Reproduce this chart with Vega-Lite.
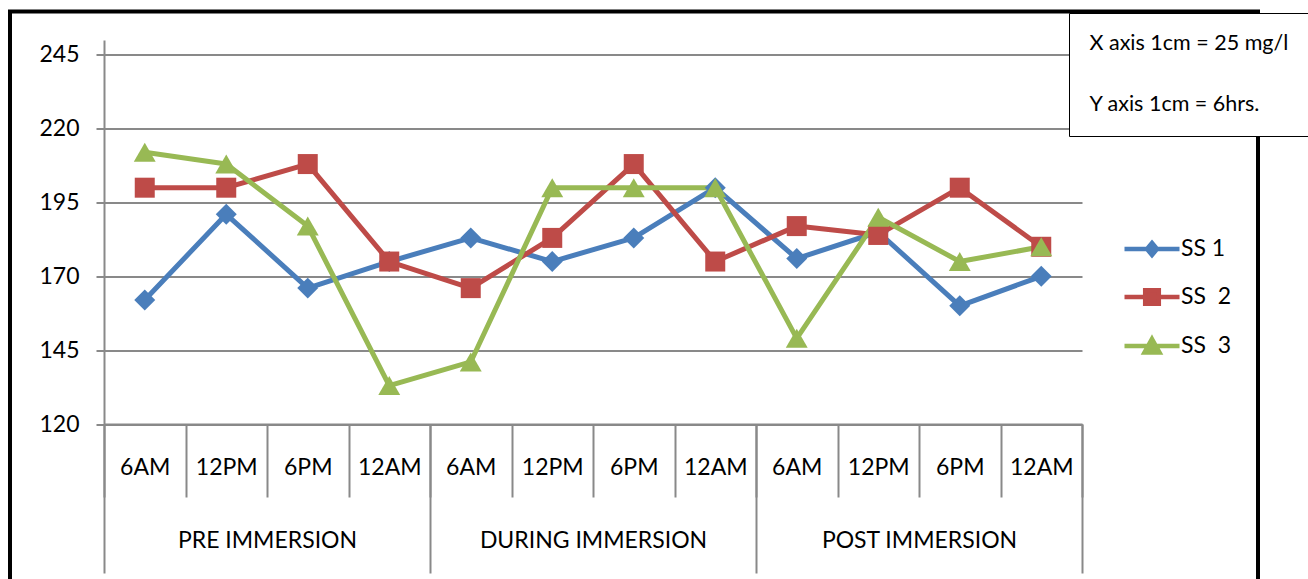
{
  "$schema": "https://vega.github.io/schema/vega-lite/v6.json",
  "autosize": {"type": "none"},
  "padding": {"left": 10, "top": 11.5, "right": 50, "bottom": 0},
  "width": 1248,
  "height": 580,
  "background": "white",
  "config": {
    "view": {"stroke": "black", "strokeWidth": 4},
    "font": "Lato",
    "axis": {"labelFont": "Lato", "labelColor": "black", "labelFontSize": 23, "title": null, "labelLimit": 400},
    "legend": {"labelFont": "Lato", "labelColor": "black", "labelLimit": 500}
  },
  "datasets": {
    "values": [
      {"series": "SS 1", "session": "PRE IMMERSION", "slot": "PRE IMMERSION 6AM", "value": 162},
      {"series": "SS 1", "session": "PRE IMMERSION", "slot": "PRE IMMERSION 12PM", "value": 191},
      {"series": "SS 1", "session": "PRE IMMERSION", "slot": "PRE IMMERSION 6PM", "value": 166},
      {"series": "SS 1", "session": "PRE IMMERSION", "slot": "PRE IMMERSION 12AM", "value": 175},
      {"series": "SS 1", "session": "DURING IMMERSION", "slot": "DURING IMMERSION 6AM", "value": 183},
      {"series": "SS 1", "session": "DURING IMMERSION", "slot": "DURING IMMERSION 12PM", "value": 175},
      {"series": "SS 1", "session": "DURING IMMERSION", "slot": "DURING IMMERSION 6PM", "value": 183},
      {"series": "SS 1", "session": "DURING IMMERSION", "slot": "DURING IMMERSION 12AM", "value": 200},
      {"series": "SS 1", "session": "POST IMMERSION", "slot": "POST IMMERSION 6AM", "value": 176},
      {"series": "SS 1", "session": "POST IMMERSION", "slot": "POST IMMERSION 12PM", "value": 185},
      {"series": "SS 1", "session": "POST IMMERSION", "slot": "POST IMMERSION 6PM", "value": 160},
      {"series": "SS 1", "session": "POST IMMERSION", "slot": "POST IMMERSION 12AM", "value": 170},
      {"series": "SS  2", "session": "PRE IMMERSION", "slot": "PRE IMMERSION 6AM", "value": 200},
      {"series": "SS  2", "session": "PRE IMMERSION", "slot": "PRE IMMERSION 12PM", "value": 200},
      {"series": "SS  2", "session": "PRE IMMERSION", "slot": "PRE IMMERSION 6PM", "value": 208},
      {"series": "SS  2", "session": "PRE IMMERSION", "slot": "PRE IMMERSION 12AM", "value": 175},
      {"series": "SS  2", "session": "DURING IMMERSION", "slot": "DURING IMMERSION 6AM", "value": 166},
      {"series": "SS  2", "session": "DURING IMMERSION", "slot": "DURING IMMERSION 12PM", "value": 183},
      {"series": "SS  2", "session": "DURING IMMERSION", "slot": "DURING IMMERSION 6PM", "value": 208},
      {"series": "SS  2", "session": "DURING IMMERSION", "slot": "DURING IMMERSION 12AM", "value": 175},
      {"series": "SS  2", "session": "POST IMMERSION", "slot": "POST IMMERSION 6AM", "value": 187},
      {"series": "SS  2", "session": "POST IMMERSION", "slot": "POST IMMERSION 12PM", "value": 184},
      {"series": "SS  2", "session": "POST IMMERSION", "slot": "POST IMMERSION 6PM", "value": 200},
      {"series": "SS  2", "session": "POST IMMERSION", "slot": "POST IMMERSION 12AM", "value": 180},
      {"series": "SS  3", "session": "PRE IMMERSION", "slot": "PRE IMMERSION 6AM", "value": 212},
      {"series": "SS  3", "session": "PRE IMMERSION", "slot": "PRE IMMERSION 12PM", "value": 208},
      {"series": "SS  3", "session": "PRE IMMERSION", "slot": "PRE IMMERSION 6PM", "value": 187},
      {"series": "SS  3", "session": "PRE IMMERSION", "slot": "PRE IMMERSION 12AM", "value": 133},
      {"series": "SS  3", "session": "DURING IMMERSION", "slot": "DURING IMMERSION 6AM", "value": 141},
      {"series": "SS  3", "session": "DURING IMMERSION", "slot": "DURING IMMERSION 12PM", "value": 200},
      {"series": "SS  3", "session": "DURING IMMERSION", "slot": "DURING IMMERSION 6PM", "value": 200},
      {"series": "SS  3", "session": "DURING IMMERSION", "slot": "DURING IMMERSION 12AM", "value": 200},
      {"series": "SS  3", "session": "POST IMMERSION", "slot": "POST IMMERSION 6AM", "value": 149},
      {"series": "SS  3", "session": "POST IMMERSION", "slot": "POST IMMERSION 12PM", "value": 190},
      {"series": "SS  3", "session": "POST IMMERSION", "slot": "POST IMMERSION 6PM", "value": 175},
      {"series": "SS  3", "session": "POST IMMERSION", "slot": "POST IMMERSION 12AM", "value": 180}
    ],
    "notes": [
      {"note": "X axis 1cm = 25 mg/l"},
      {"note": "Y axis 1cm = 6hrs."}
    ]
  },
  "resolve": {"scale": {"x": "independent"}, "axis": {"x": "independent"}},
  "layer": [
    {
      "data": {"name": "values"},
      "encoding": {
        "x": {
          "field": "slot", "type": "nominal", "sort": null,
          "scale": {
            "type": "band",
            "domain": ["PRE IMMERSION 6AM", "PRE IMMERSION 12PM", "PRE IMMERSION 6PM", "PRE IMMERSION 12AM", "DURING IMMERSION 6AM", "DURING IMMERSION 12PM", "DURING IMMERSION 6PM", "DURING IMMERSION 12AM", "POST IMMERSION 6AM", "POST IMMERSION 12PM", "POST IMMERSION 6PM", "POST IMMERSION 12AM"],
            "range": [94, 1072], "paddingInner": 0, "paddingOuter": 0
          },
          "axis": {
            "orient": "bottom", "offset": -167.5, "tickBand": "extent", "tickSize": 73,
            "tickColor": "#898989", "tickWidth": 2, "domainColor": "#898989", "domainWidth": 2,
            "labelAngle": 0, "labelBaseline": "middle", "labelPadding": -30,
            "labelExpr": "split(datum.label, ' ')[2]", "grid": false
          }
        },
        "y": {
          "field": "value", "type": "quantitative",
          "scale": {"domain": [120, 250], "range": [412.5, 28.5], "nice": false, "zero": false},
          "axis": {
            "orient": "left", "offset": -94, "values": [120, 145, 170, 195, 220, 245],
            "grid": true, "gridColor": "#898989", "gridWidth": 2,
            "domainColor": "#898989", "domainWidth": 2, "tickColor": "#898989", "tickWidth": 2,
            "tickSize": 8, "labelPadding": 17
          }
        },
        "color": {
          "field": "series", "type": "nominal",
          "scale": {"domain": ["SS 1", "SS  2", "SS  3"], "range": ["#4A7EBB", "#BE4B48", "#98B954"]},
          "legend": {
            "orient": "none", "legendX": 1129.5, "legendY": 225, "title": null, "padding": 0,
            "labelFontSize": 23, "labelOffset": 16.5, "rowPadding": 16, "symbolSize": 400, "symbolStrokeWidth": 4.5,
            "labelExpr": "replace(datum.label, '  ', ' \u00a0')",
            "encode": {"symbols": {"update": {
              "shape": {"signal": "datum.value === 'SS 1' ? 'M-2.75,0H2.75M0,-0.6L0.5,0L0,0.6L-0.5,0Z' : datum.value === 'SS  2' ? 'M-2.75,0H2.75M-0.68,-0.68H0.68V0.68H-0.68Z' : 'M-2.75,0H2.75M0,-0.7L0.75,0.65H-0.75Z'"},
              "stroke": {"signal": "scale('color', datum.value)"},
              "fill": {"signal": "scale('color', datum.value)"},
              "strokeWidth": {"value": 4.5},
              "opacity": {"value": 1}
            }}}
          }
        }
      },
      "layer": [
        {"mark": {"type": "line", "strokeWidth": 5, "strokeJoin": "round"}},
        {
          "transform": [{"filter": "datum.series === 'SS 1'"}],
          "mark": {"type": "point", "shape": "diamond", "filled": true, "opacity": 1, "size": 440}
        },
        {
          "transform": [{"filter": "datum.series === 'SS  2'"}],
          "mark": {"type": "point", "shape": "square", "filled": true, "opacity": 1, "size": 400}
        },
        {
          "transform": [{"filter": "datum.series === 'SS  3'"}],
          "mark": {"type": "point", "shape": "triangle-up", "filled": true, "opacity": 1, "size": 480}
        }
      ]
    },
    {
      "data": {"name": "values"},
      "mark": {"type": "point", "opacity": 0},
      "encoding": {
        "x": {
          "field": "session", "type": "nominal", "sort": null,
          "scale": {"type": "band", "domain": ["PRE IMMERSION", "DURING IMMERSION", "POST IMMERSION"], "range": [94, 1072], "paddingInner": 0, "paddingOuter": 0},
          "axis": {
            "orient": "bottom", "offset": -167.5, "tickBand": "extent", "tickSize": 149,
            "tickColor": "#898989", "tickWidth": 2, "domain": false,
            "labelAngle": 0, "labelBaseline": "middle", "labelPadding": -33, "grid": false
          }
        }
      }
    },
    {
      "data": {"name": "notes"},
      "mark": {"type": "point", "opacity": 0},
      "encoding": {
        "fill": {
          "field": "note", "type": "nominal",
          "scale": {"range": ["white", "white"]},
          "legend": {
            "orient": "none", "legendX": 1059, "legendY": 1.5, "title": null, "padding": 20,
            "strokeColor": "black", "fillColor": "white", "labelFontSize": 21.5, "labelOffset": -21, "rowPadding": 38,
            "symbolSize": 1, "symbolType": "circle", "symbolOpacity": 0, "symbolStrokeWidth": 0,
            "labelExpr": "datum.label + '\u00a0\u00a0\u00a0\u00a0\u00a0\u00a0\u00a0\u00a0\u00a0'",
            "encode": {"legend": {"update": {"strokeWidth": {"value": 2}}}}
          }
        }
      }
    }
  ]
}
